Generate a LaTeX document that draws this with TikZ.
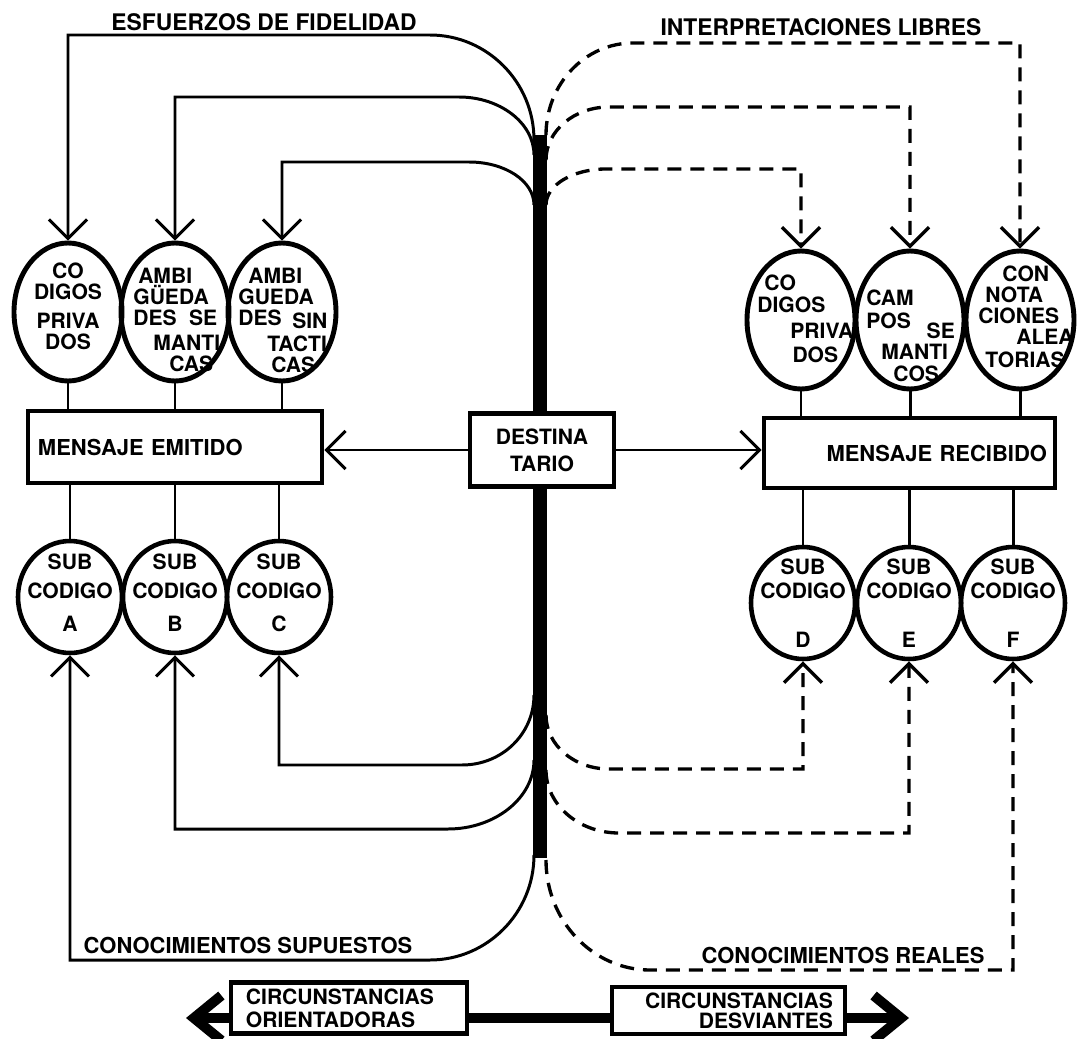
\documentclass[tikz,border=0pt]{standalone}
\usepackage{fontspec}
\setmainfont{TeX Gyre Heros}
\usetikzlibrary{arrows.meta}
\usetikzlibrary{shapes}

\tikzset{
	linie/.style={line width=1.7pt},
	strich/.style={line width=1.9pt, dash pattern=on 2.8mm off 1.8mm},
	spitze/.style={-{Straight Barb[length=3.8mm,width=7.6mm]}},
	dick/.style={line width=5.7pt},
	pfeil/.style={-{Straight Barb[length=5.5mm,width=9mm]}},
	oval/.style={draw, ellipse, line width=2.8pt, minimum width=21.6mm, minimum height=27.6mm, inner sep=0pt},
	kreis/.style={draw, ellipse, line width=2.6pt, minimum width=20.8mm, minimum height=22.4mm, inner sep=0pt},
	kasten/.style={draw, fill=white, line width=2.8pt, inner ysep=0pt},
	txt/.style={inner sep=0pt, font=\bfseries\fontsize{12}{12}\selectfont},
	titel/.style={inner sep=0pt, font=\bfseries\fontsize{13}{13}\selectfont}
}

\begin{document}
\begin{tikzpicture}[x=0.2mm, y=-0.2mm]
		\useasboundingbox (0,0) rectangle (1079,1039);

		%Balken
		\coordinate (btop) at (540,135);
		\coordinate (bbot) at (540,858);
		\draw [line width=8.5pt] (btop) -- (bbot);

		%Kaesten
		\node [kasten, minimum width=28.8mm, minimum height=14.6mm, align=center, font=\bfseries\fontsize{12}{15.4}\selectfont] (dest) at (542,450) {DESTINA\\TARIO};
		\node [kasten, text width=54.8mm, inner xsep=2mm, minimum height=14.4mm, align=left, font=\bfseries\fontsize{12.5}{12.5}\selectfont] (emit) at (175,447) {MENSAJE EMITIDO};
		\node [kasten, text width=55mm, inner xsep=1.6mm, minimum height=14mm, align=right, font=\bfseries\fontsize{12.5}{12.5}\selectfont] (recib) at (909.5,453) {MENSAJE RECIBIDO};

		\draw [linie, spitze] (dest.west) -- (dest.west -| emit.east);
		\draw [linie, spitze] (dest.east) -- (dest.east -| recib.west);

		%Ovale links
		\node [oval] (priv1) at (68,312) {};
		\node [oval] (sem1) at (175,312) {};
		\node [oval] (sint) at (282,312) {};
		\node [txt, align=center] (tpriv1) at (68,306.5) {CO\\DIGOS\\[4.5pt]PRIVA\\DOS};
		\node [txt, align=left, anchor=north west] (tsem1) at (133,267.5) {\hspace*{2.8pt}AMBI\\GÜEDA\\DES\hspace{7pt}SE\\[2pt]\hspace*{11.4pt}MANTI\\\hspace*{20.5pt}CAS};
		\node [txt, align=left, anchor=north west] (tsint) at (238,267.5) {\hspace*{5.7pt}AMBI\\GUEDA\\DES\hspace{6pt}\raisebox{-2pt}[0pt][0pt]{SIN}\\[3pt]\hspace*{16.5pt}TACTI\\\hspace*{18.8pt}CAS};

		%Ovale rechts
		\node [oval] (priv2) at (801,320) {};
		\node [oval] (sem2) at (910,320) {};
		\node [oval] (conn) at (1020,320) {};
		\node [txt, align=left, anchor=north west] (tpriv2) at (757,274.5) {\hspace*{4pt}CO\\[0.6pt]DIGOS\\[2.8pt]\hspace*{18.8pt}PRIVA\\[1.7pt]\hspace*{20pt}DOS};
		\node [txt, align=left, anchor=north west] (tsem2) at (866,289.5) {CAM\\[1pt]POS\hspace{9pt}\raisebox{-5.7pt}[0pt][0pt]{SE}\\[6pt]\hspace*{8.5pt}MANTI\\\hspace*{15.4pt}COS};
		\node [txt, align=left, anchor=north west] (tconn) at (978,265.5) {\hspace*{13.7pt}CON\\\hspace*{4pt}NOTA\\CIONES\\\hspace*{21.6pt}ALEA\\[1.1pt]\hspace*{4pt}TORIAS};

		%Subcodigos links
		\node [kreis] (suba) at (70,597) {};
		\node [kreis] (subb) at (175,597) {};
		\node [kreis] (subc) at (279,597) {};
		\node [txt, align=center, font=\bfseries\fontsize{12}{16.5}\selectfont] (tsuba) at (70,593) {SUB\\CODIGO\\[2.3pt]A};
		\node [txt, align=center, font=\bfseries\fontsize{12}{16.5}\selectfont] (tsubb) at (175,593) {SUB\\CODIGO\\[2.3pt]B};
		\node [txt, align=center, font=\bfseries\fontsize{12}{16.5}\selectfont] (tsubc) at (279,593) {SUB\\CODIGO\\[2.3pt]C};

		%Subcodigos rechts
		\node [kreis] (subd) at (803,603) {};
		\node [kreis] (sube) at (909,603) {};
		\node [kreis] (subf) at (1013,603) {};
		\node [txt, align=center, font=\bfseries\fontsize{12}{13.7}\selectfont] (tsubd) at (803,603.5) {SUB\\CODIGO\\[14.2pt]D};
		\node [txt, align=center, font=\bfseries\fontsize{12}{13.7}\selectfont] (tsube) at (909,603.5) {SUB\\CODIGO\\[14.2pt]E};
		\node [txt, align=center, font=\bfseries\fontsize{12}{13.7}\selectfont] (tsubf) at (1013,603.5) {SUB\\CODIGO\\[14.2pt]F};

		%Stiele
		\draw [linie] (priv1.south) -- (priv1.south |- emit.north);
		\draw [linie] (sem1.south) -- (sem1.south |- emit.north);
		\draw [linie] (sint.south) -- (sint.south |- emit.north);
		\draw [linie] (suba.north |- emit.south) -- (suba.north);
		\draw [linie] (subb.north |- emit.south) -- (subb.north);
		\draw [linie] (subc.north |- emit.south) -- (subc.north);
		\draw [linie] (priv2.south) -- (priv2.south |- recib.north);
		\draw [linie] (sem2.south) -- (sem2.south |- recib.north);
		\draw [linie] (conn.south) -- (conn.south |- recib.north);
		\draw [linie] (subd.north |- recib.south) -- (subd.north);
		\draw [linie] (sube.north |- recib.south) -- (sube.north);
		\draw [linie] (subf.north |- recib.south) -- (subf.north);

		%Esfuerzos de fidelidad
		\coordinate (f1) at (534,140);
		\coordinate (f2) at (534,155);
		\coordinate (f3) at (534,205);
		\draw [linie, spitze] (f1) .. controls (534,82) and (487,35) .. (430,35) -| (priv1.north);
		\draw [linie, spitze] (f2) .. controls (534,123) and (500,97) .. (459,97) -| (sem1.north);
		\draw [linie, spitze] (f3) .. controls (534,181) and (505,162) .. (469,162) -| (sint.north);
		\node [titel] (esf) at (264,22) {ESFUERZOS DE FIDELIDAD};

		%Interpretaciones libres
		\coordinate (i1) at (546,205);
		\coordinate (i2) at (546,160);
		\coordinate (i3) at (546,135);
		\draw [strich, spitze] (i1) .. controls (546,185) and (573,169) .. (606,169) -| (priv2.north);
		\draw [strich, spitze] (i2) .. controls (546,131) and (574,107) .. (609,107) -| (sem2.north);
		\draw [strich, spitze] (i3) .. controls (546,84) and (585,43) .. (633,43) -| (conn.north);
		\node [titel] (inter) at (821,27) {INTERPRETACIONES LIBRES};

		%Conocimientos supuestos
		\coordinate (s3) at (534,695);
		\coordinate (s2) at (534,760);
		\coordinate (s1) at (534,855);
		\draw [linie, spitze] (s3) .. controls (534,734) and (502,765) .. (462,765) -| (subc.south);
		\draw [linie, spitze] (s2) .. controls (534,798) and (495,829) .. (448,829) -| (subb.south);
		\draw [linie, spitze] (s1) .. controls (534,913) and (487,960) .. (430,960) -| (suba.south);
		\node [titel, font=\bfseries\fontsize{12.5}{12.5}\selectfont] (sup) at (248,945) {CONOCIMIENTOS SUPUESTOS};

		%Conocimientos reales
		\coordinate (r1) at (546,715);
		\coordinate (r2) at (546,770);
		\coordinate (r3) at (546,860);
		\draw [strich, spitze] (r1) .. controls (546,745) and (574,769) .. (609,769) -| (subd.south);
		\draw [strich, spitze] (r2) .. controls (546,805) and (579,833) .. (619,833) -| (sube.south);
		\draw [strich, spitze] (r3) .. controls (546,921) and (593,970) .. (650,970) -| (subf.south);
		\node [titel, font=\bfseries\fontsize{12.5}{12.5}\selectfont] (real) at (843,955) {CONOCIMIENTOS REALES};

		%Circunstancias
		\coordinate (links) at (186,1018);
		\coordinate (rechts) at (909,1018);
		\node [kasten, text width=41.2mm, inner xsep=3mm, minimum height=10.2mm, align=left, font=\bfseries\fontsize{12}{13}\selectfont] (orient) at (349,1008) {CIRCUNSTANCIAS\\ORIENTADORAS};
		\node [kasten, text width=41.8mm, inner xsep=2.4mm, minimum height=9.4mm, align=right, font=\bfseries\fontsize{12}{11.4}\selectfont] (desv) at (728.5,1010.5) {CIRCUNSTANCIAS\\DESVIANTES};
		\draw [dick] (orient.east |- links) -- (desv.west |- links);
		\draw [dick, pfeil] (orient.west |- links) -- (links);
		\draw [dick, pfeil] (desv.east |- rechts) -- (rechts);
\end{tikzpicture}
\end{document}
